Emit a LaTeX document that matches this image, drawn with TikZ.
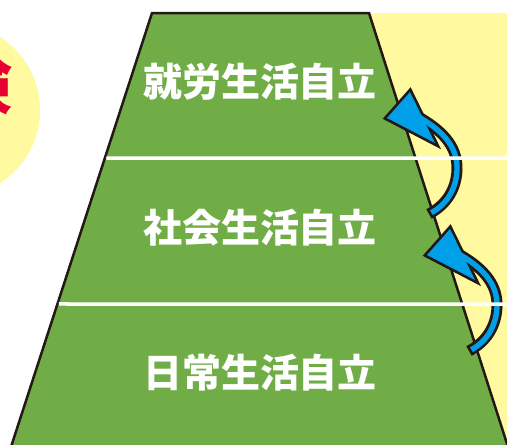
\documentclass[tikz,border=0pt]{standalone}
\usepackage{fontspec}
\newfontfamily\jp{Noto Sans CJK JP}
\usetikzlibrary{calc}
\definecolor{lvgreen}{HTML}{70AD47}
\definecolor{lvyellow}{HTML}{FFF9A0}
\definecolor{arrblue}{HTML}{00A0E9}
\definecolor{redtxt}{HTML}{E60033}
\definecolor{edge}{HTML}{231815}
\newcommand\curvedarrow[2]{%
  \begin{scope}[shift={(#1)}]
    % black under-layer
    \draw[edge, line width=11pt, line cap=butt]
      (33,-2) .. controls (56,11) and (74,27) .. (73,52)
              .. controls (72,74) and (60,88) .. (45,96);
    \filldraw[edge, line width=5.4pt, line join=miter] (3,0) -- (26,-26) -- (51,25) -- cycle;
    % blue top layer
    \draw[arrblue, line width=5.4pt, line cap=butt, shorten >=2.7pt]
      (33,-2) .. controls (56,11) and (74,27) .. (73,52)
              .. controls (72,74) and (60,88) .. (45,96);
    \fill[arrblue] (3,0) -- (26,-26) -- (51,25) -- cycle;
  \end{scope}}
\begin{document}
\begin{tikzpicture}[x=1pt,y=-1pt,
  leveltext/.style={text=white, font=\jp\bfseries\fontsize{39}{39}\selectfont, inner sep=0pt},
  divider/.style={white, line width=3.5pt},
  outline/.style={draw=edge, line width=2.5pt, line join=miter}]
\useasboundingbox (0,0) rectangle (507,445);
\clip (0,0) rectangle (507,445);
% left circle with partial red character
\fill[lvyellow] (-47,110) circle [radius=87pt];
\node[text=redtxt, font=\jp\bfseries\fontsize{64}{64}\selectfont, inner sep=0pt] (kanji) at (-20,84) {険};
% right yellow panel
\fill[lvyellow] (300,13) rectangle (512,450);
% trapezoid
\coordinate (tl) at (152,13);
\coordinate (tr) at (369,13);
\coordinate (br) at (509,450);
\coordinate (bl) at (10,450);
\filldraw[fill=lvgreen, outline] (tl) -- (tr) -- (br) -- (bl) -- cycle;
% arrows
\curvedarrow{384,118}{a1}
\curvedarrow{424,255}{a2}
% dividers
\coordinate (d1l) at ($(tl)!0.3318!(bl)$);
\coordinate (d2l) at ($(tl)!0.6659!(bl)$);
\draw[divider] ([xshift=1.5pt]d1l) -- (510,158);
\draw[divider] ([xshift=1.5pt]d2l) -- (510,304);
% labels
\node[leveltext] (l3) at (260,82) {就労生活自立};
\node[leveltext] (l2) at (260,228) {社会生活自立};
\node[leveltext] (l1) at (260,373) {日常生活自立};
\end{tikzpicture}
\end{document}
